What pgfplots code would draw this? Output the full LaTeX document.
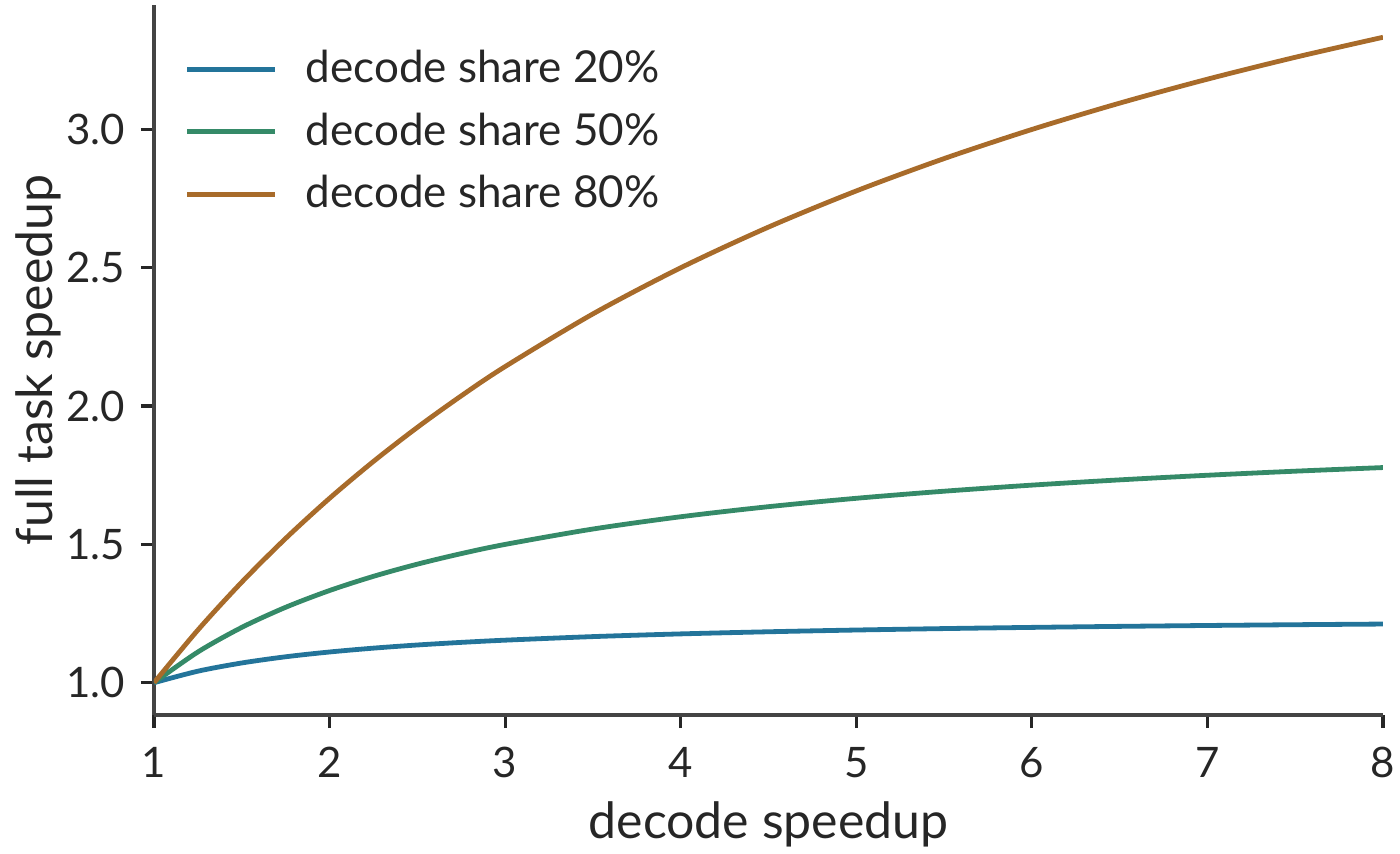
\documentclass[border=0pt]{standalone}
\usepackage{pgfplots}
\pgfplotsset{compat=1.18}
\usepackage{fontspec}
\setmainfont{Lato}

\definecolor{cblue}{HTML}{23749A}
\definecolor{cgreen}{HTML}{358A68}
\definecolor{corange}{HTML}{A86B2A}
\definecolor{spine}{HTML}{444444}
\definecolor{txt}{HTML}{262626}

\begin{document}
\begin{tikzpicture}
% fix the page to the reference's margins round the axis
\useasboundingbox (-38.5pt,-34.75pt) rectangle (311.5pt,178.75pt);
\begin{axis}[
    at={(0pt,0pt)}, anchor=south west,
    scale only axis,
    width=307.25pt, height=177.5pt,
    xmin=1, xmax=8,
    ymin=0.8833, ymax=3.45,
    xtick={1,2,3,4,5,6,7,8},
    ytick={1.0,1.5,2.0,2.5,3.0},
    yticklabel style={xshift=-0.4pt, /pgf/number format/fixed, /pgf/number format/fixed zerofill, /pgf/number format/precision=1},
    /pgf/number format/assume math mode=true,
    axis lines=left,
    axis line style={-, spine, line width=0.8pt},
    tick align=outside,
    major tick length=3.3pt,
    tick style={txt, line width=0.8pt},
    ticklabel style={font=\fontsize{10.5}{12}\selectfont, text=txt},
    xticklabel style={yshift=-1.3pt},
    xlabel={decode speedup},
    ylabel={full task speedup},
    label style={font=\fontsize{12.5}{15}\selectfont, text=txt},
    xlabel style={yshift=1pt},
    ylabel style={yshift=-5.5pt},
    legend style={draw=none, fill=none, at={(0.0146,0.96)}, anchor=north west,
        font=\fontsize{11}{13}\selectfont, text=txt, row sep=2pt},
    legend cell align=left,
    legend image code/.code={\draw[#1, line width=1.2pt] (0pt,0pt) -- (22pt,0pt); \path (27pt,0pt);},
    every axis plot/.append style={line width=1.2pt, smooth},
]
\addplot[cblue] coordinates {
    (1,1) (1.25,1.0417) (1.5,1.0714) (1.75,1.0938) (2,1.1111) (2.25,1.125)
    (2.5,1.1364) (2.75,1.1458) (3,1.1538) (3.5,1.1667) (4,1.1765) (4.5,1.1842)
    (5,1.1905) (5.5,1.1957) (6,1.2) (6.5,1.2037) (7,1.2069) (7.5,1.2097) (8,1.2121)
};
\addlegendentry{decode share 20\%}
\addplot[cgreen] coordinates {
    (1,1) (1.25,1.1111) (1.5,1.2) (1.75,1.2727) (2,1.3333) (2.25,1.3846)
    (2.5,1.4286) (2.75,1.4667) (3,1.5) (3.5,1.5556) (4,1.6) (4.5,1.6364)
    (5,1.6667) (5.5,1.6923) (6,1.7143) (6.5,1.7333) (7,1.75) (7.5,1.7647) (8,1.7778)
};
\addlegendentry{decode share 50\%}
\addplot[corange] coordinates {
    (1,1) (1.25,1.1905) (1.5,1.3636) (1.75,1.5217) (2,1.6667) (2.25,1.8)
    (2.5,1.9231) (2.75,2.0370) (3,2.1429) (3.5,2.3333) (4,2.5) (4.5,2.6471)
    (5,2.7778) (5.5,2.8947) (6,3.0) (6.5,3.0952) (7,3.1818) (7.5,3.2609) (8,3.3333)
};
\addlegendentry{decode share 80\%}
\end{axis}
\end{tikzpicture}
\end{document}
